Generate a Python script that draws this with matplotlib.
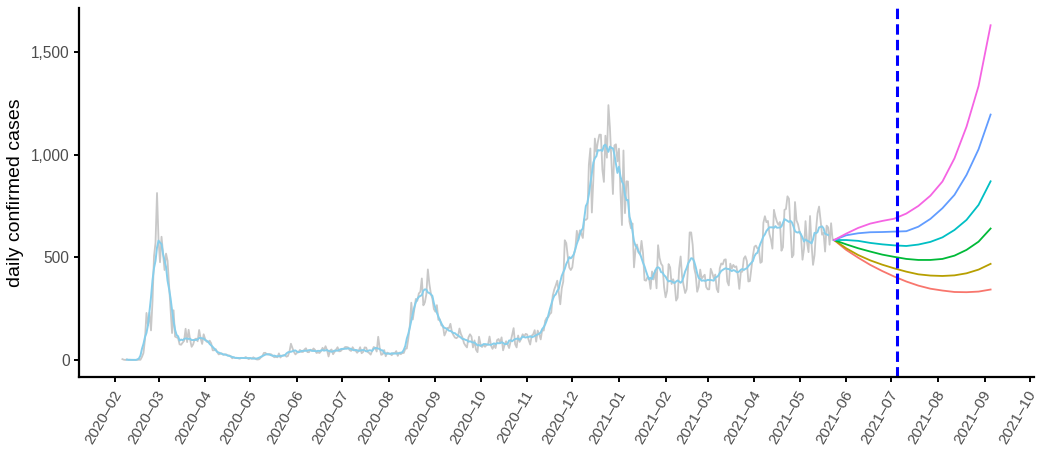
import numpy as np
import pandas as pd
import matplotlib
matplotlib.use("Agg")
import matplotlib.pyplot as plt
from matplotlib.ticker import FuncFormatter
from matplotlib.transforms import ScaledTranslation

plt.rcParams['font.family'] = ['Liberation Sans', 'DejaVu Sans']

# ---------------- data ----------------
start_date = "2020-02-06"
feb20 = [4, 1, 0, 3, 0, 1, 0, 0, 0, 0, 1, 1, 1, 15, 34, 100, 229, 169, 231, 144, 284, 505, 571, 813]
mar20 = [586, 476, 600, 516, 438, 518, 483, 367, 248, 131, 242, 114, 110, 107, 76, 74, 84, 93, 152, 87,
         147, 98, 64, 76, 100, 104, 91, 146, 105, 78, 125]
apr20 = [101, 89, 86, 94, 81, 47, 47, 53, 39, 27, 30, 32, 25, 27, 27, 22, 22, 18, 8, 13,
         9, 11, 8, 6, 10, 10, 10, 14, 9, 4]
may20 = [9, 6, 13, 8, 3, 2, 4, 12, 18, 34, 35, 27, 26, 29, 27, 19, 13, 15, 13, 32,
         12, 20, 23, 25, 16, 19, 40, 79, 58, 39, 27]
jun20 = [35, 38, 49, 39, 39, 51, 57, 38, 38, 50, 45, 56, 49, 34, 37, 34, 43, 59, 49, 67,
         48, 17, 46, 51, 28, 39, 51, 62, 42, 43]
jul20 = [51, 54, 63, 63, 61, 48, 44, 62, 50, 45, 35, 44, 62, 33, 39, 61, 60, 39, 34, 26,
         45, 63, 59, 41, 113, 58, 25, 28, 48, 18, 36]
aug20 = [31, 30, 23, 34, 33, 43, 20, 36, 28, 34, 34, 54, 56, 103, 166, 279, 197, 246, 297, 288,
         324, 332, 397, 266, 280, 320, 441, 371, 323, 299, 248]
sep20 = [235, 267, 195, 198, 168, 167, 119, 136, 156, 155, 176, 136, 121, 109, 106, 113, 153, 126, 110, 82,
         70, 61, 110, 125, 114, 61, 95, 50, 38, 113]
oct20 = [77, 63, 75, 64, 73, 75, 114, 69, 54, 72, 58, 97, 102, 84, 110, 47, 73, 91, 76, 58,
         89, 121, 155, 77, 61, 119, 88, 103, 125, 114, 127]
nov20 = [124, 97, 75, 118, 125, 145, 89, 143, 126, 100, 146, 143, 191, 205, 208, 223, 230, 313, 343, 363,
         386, 330, 271, 349, 382, 583, 569, 504, 450, 438]
dec20 = [451, 511, 540, 629, 583, 631, 615, 594, 686, 682, 689, 950, 1030, 718, 880, 1078, 1014, 1062, 1097, 1097,
         926, 867, 1092, 985, 1241, 1132, 970, 808, 1045, 1050, 967]
jan21 = [1029, 820, 657, 1020, 715, 870, 869, 674, 641, 665, 451, 537, 562, 524, 513, 580, 520, 389, 386, 404,
         400, 346, 431, 392, 437, 349, 559, 497, 469, 458, 355]
feb21 = [305, 336, 467, 451, 370, 393, 372, 289, 303, 444, 504, 403, 362, 326, 344, 457, 621, 621, 561, 448,
         416, 332, 356, 440, 396, 406, 415, 355]
mar21 = [344, 344, 444, 424, 398, 416, 346, 330, 446, 470, 465, 488, 490, 382, 363, 469, 445, 463, 452, 456,
         415, 346, 428, 430, 494, 505, 482, 382, 384, 447, 506]
apr21 = [551, 557, 543, 543, 473, 478, 668, 700, 671, 677, 614, 587, 542, 731, 698, 673, 658, 672, 532, 549,
         731, 735, 797, 785, 644, 500, 512, 769, 680, 661]
may21 = [627, 606, 488, 541, 676, 574, 525, 701, 564, 463, 511, 635, 715, 747, 681, 610, 619, 528, 654, 646,
         561, 666, 585]

# projection scenarios (every 8 days from 2021-05-24 to 2021-09-05)
proj_start = "2021-05-24"
proj_step_days = 8
proj_red   = [584, 536, 498, 463, 433, 406, 382, 362, 347, 338, 331, 330, 333, 343]
proj_olive = [584, 544, 511, 485, 464, 446, 430, 417, 411, 409, 412, 422, 440, 468]
proj_green = [584, 563, 544, 528, 513, 502, 492, 487, 487, 492, 508, 536, 576, 640]
proj_teal  = [584, 584, 580, 570, 563, 558, 555, 562, 575, 597, 633, 682, 755, 870]
proj_blue  = [584, 607, 617, 622, 623, 625, 627, 649, 687, 739, 804, 901, 1026, 1195]
proj_pink  = [584, 615, 643, 664, 677, 688, 713, 750, 800, 869, 982, 1136, 1334, 1630]
proj_colors = ["#F8766D", "#B79F00", "#00BA38", "#00BFC4", "#619CFF", "#F564E3"]

vline_date = "2021-07-05"
tick_start, tick_end = "2020-02-01", "2021-10-01"

# ---------------- build ----------------
daily = np.array(feb20 + mar20 + apr20 + may20 + jun20 + jul20 + aug20 + sep20 + oct20 +
                 nov20 + dec20 + jan21 + feb21 + mar21 + apr21 + may21, dtype=float)
dates = pd.date_range(start_date, periods=len(daily), freq="D")
ser = pd.Series(daily, index=dates)
smooth = ser.rolling(7, center=True).mean()

projs = [proj_red, proj_olive, proj_green, proj_teal, proj_blue, proj_pink]
proj_dates = pd.date_range(proj_start, periods=len(proj_red), freq=f"{proj_step_days}D")

fig = plt.figure(figsize=(10.4, 4.62), dpi=100)
ax = fig.add_axes([79/1040, (462-377)/462, (1034-79)/1040, (377-8)/462])

ax.plot(dates, daily, color="#C8C8C8", lw=1.3, solid_joinstyle="round")
ax.plot(dates, smooth.values, color="#87CEEB", lw=1.4)
for vals, c in zip(projs, proj_colors):
    ax.plot(proj_dates, vals, color=c, lw=1.3)

ax.axvline(pd.Timestamp(vline_date), color="#0000FF", lw=2.2, linestyle=(0, (3.4, 1.7)))

# limits (ggplot 5% expansion)
xmin = dates[0]
xmax = proj_dates[-1]
span = (xmax - xmin)
ax.set_xlim(xmin - span * 0.05, xmax + span * 0.05)
ax.set_ylim(-83, 1714)

ticks = pd.date_range(tick_start, tick_end, freq="MS")
ax.set_xticks(ticks)
ax.set_xticklabels([t.strftime("%Y–%m") for t in ticks])

ax.set_yticks([0, 500, 1000, 1500])
ax.yaxis.set_major_formatter(FuncFormatter(lambda v, p: f"{v:,.0f}"))

for s in ["top", "right"]:
    ax.spines[s].set_visible(False)
for s in ["left", "bottom"]:
    ax.spines[s].set_linewidth(1.6)
    ax.spines[s].set_color("black")

ax.tick_params(axis="both", length=3.3, width=1.4, color="black",
               labelcolor="#4D4D4D")
ax.tick_params(axis="x", pad=4.5, labelsize=11.0)
ax.tick_params(axis="y", pad=3.5, labelsize=11.2)

shift = ScaledTranslation(-2.0/72, 0, fig.dpi_scale_trans)
for lab in ax.get_xticklabels():
    lab.set_rotation(60)
    lab.set_ha("right")
    lab.set_va("top")
    lab.set_rotation_mode("anchor")
    lab.set_transform(lab.get_transform() + shift)

fig.text(16/1040, 1 - 192.5/462, "daily confirmed cases", rotation=90,
         ha="center", va="center", fontsize=14, color="black")

fig.savefig("out.png", dpi=100)
